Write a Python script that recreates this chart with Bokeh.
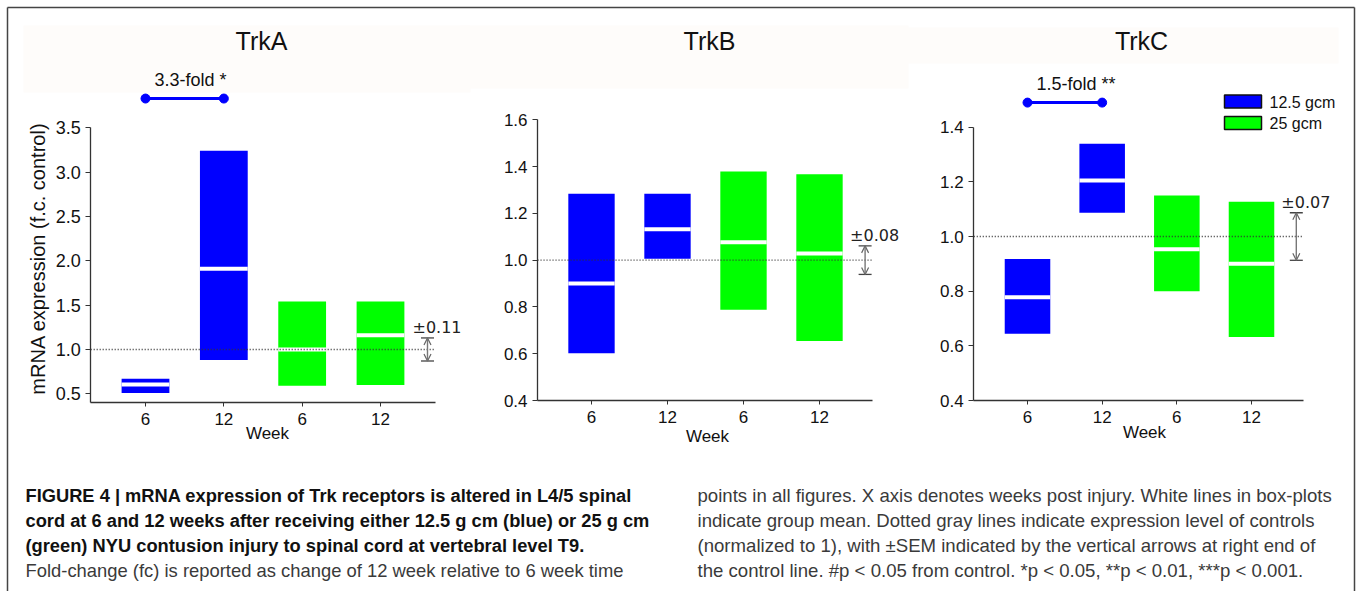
import math
from bokeh.plotting import figure
from bokeh.models import (Range1d, LinearAxis, FixedTicker, PrintfTickFormatter,
                          Arrow, OpenHead)
from bokeh.core.properties import value
from bokeh.embed import file_html
from bokeh.resources import INLINE

W, H = 1359, 591

# ---------------- data ----------------
categories = ["6", "12", "6", "12"]
groups = ["12.5 gcm", "12.5 gcm", "25 gcm", "25 gcm"]
series = ["12.5 gcm", "25 gcm"]
series_colors = ["#0000ff", "#00ff00"]

panel_names = ["TrkA", "TrkB", "TrkC"]

trka_top = [0.67, 3.24, 1.54, 1.54]
trka_bottom = [0.51, 0.88, 0.59, 0.60]
trka_mean = [0.605, 1.91, 1.00, 1.16]

trkb_top = [1.284, 1.284, 1.379, 1.367]
trkb_bottom = [0.602, 1.006, 0.788, 0.654]
trkb_mean = [0.90, 1.132, 1.077, 1.028]

trkc_top = [0.918, 1.339, 1.150, 1.127]
trkc_bottom = [0.644, 1.087, 0.800, 0.632]
trkc_mean = [0.778, 1.205, 0.953, 0.90]

control_level = 1.0
sem_labels = ["±0.11", "±0.08", "±0.07"]
sem_arrow_half = [0.13, 0.061, 0.087]

fold_labels = ["3.3-fold *", "", "1.5-fold **"]
fold_level = [3.83, None, 1.49]

yticks_a = [0.5, 1.0, 1.5, 2.0, 2.5, 3.0, 3.5]
yticks_b = [0.4, 0.6, 0.8, 1.0, 1.2, 1.4, 1.6]
yticks_c = [0.4, 0.6, 0.8, 1.0, 1.2, 1.4]

y_label = "mRNA expression (f.c. control)"
x_label = "Week"

caption_left_bold = [
    "FIGURE 4 | mRNA expression of Trk receptors is altered in L4/5 spinal",
    "cord at 6 and 12 weeks after receiving either 12.5 g cm (blue) or 25 g cm",
    "(green) NYU contusion injury to spinal cord at vertebral level T9.",
]
caption_left_regular = [
    "Fold-change (fc) is reported as change of 12 week relative to 6 week time",
]
caption_right = [
    "points in all figures. X axis denotes weeks post injury. White lines in box-plots",
    "indicate group mean. Dotted gray lines indicate expression level of controls",
    "(normalized to 1), with ±SEM indicated by the vertical arrows at right end of",
    "the control line. #p < 0.05 from control. *p < 0.05, **p < 0.01, ***p < 0.001.",
]

tops = [trka_top, trkb_top, trkc_top]
bottoms = [trka_bottom, trkb_bottom, trkc_bottom]
means = [trka_mean, trkb_mean, trkc_mean]
yticks = [yticks_a, yticks_b, yticks_c]

# ---------------- layout (pixel calibration of each panel) ----------------
xcal = [((1, 145), (4, 380)), ((1, 591), (4, 819)), ((1, 1027), (4, 1251))]
ycal = [((3.5, 127.3), (0.5, 393.3)), ((1.6, 119.3), (0.4, 400.0)), ((1.4, 126.7), (0.4, 400.0))]
x_left = [0.30, 0.29, 0.28]
x_right = 4.7
y_floor = 0.4
tick_font = ["18px", "17px", "17px"]
title_pos = [(261, 40), (709, 40), (1141, 40)]
week_pos = [(267, 433), (707, 436), (1144, 432)]
half_w = 0.305
arrow_x = 4.6

FONT_NAME = "Liberation Sans"
FONT = value(FONT_NAME)


def make_range(c, total, vertical):
    (v1, p1), (v2, p2) = c
    k = (v2 - v1) / (p2 - p1)
    at0 = v1 - k * p1
    att = v1 + k * (total - p1)
    return Range1d(start=att, end=at0) if vertical else Range1d(start=at0, end=att)


p = figure(width=W, height=H, x_range=Range1d(0, W), y_range=Range1d(H, 0),
           x_axis_type=None, y_axis_type=None, toolbar_location=None,
           output_backend="svg", min_border=0, outline_line_color=None,
           background_fill_color="white", border_fill_color="white")

# very faint title bands
p.quad(left=[23, 460, 900], right=[470, 908, 1338], top=[25, 25, 27], bottom=[92, 88, 63],
       fill_color="#fefcfa", line_color=None)

# outer frame
p.segment(x0=[7, 7, 1354], y0=[7, 7, 7], x1=[1354, 7, 1354], y1=[7, H, H],
          line_color="#444444", line_width=1.5)

for i, name in enumerate(panel_names):
    xn, yn = f"x{i}", f"y{i}"
    p.extra_x_ranges[xn] = make_range(xcal[i], W, False)
    p.extra_y_ranges[yn] = make_range(ycal[i], H, True)
    xs = [k + 1 for k in range(len(categories))]
    colors = [series_colors[series.index(g)] for g in groups]

    p.quad(left=[x - half_w for x in xs], right=[x + half_w for x in xs],
           bottom=bottoms[i], top=tops[i], fill_color=colors, line_color=None,
           x_range_name=xn, y_range_name=yn)
    p.segment(x0=[x - half_w for x in xs], x1=[x + half_w for x in xs],
              y0=means[i], y1=means[i], line_color="white", line_width=4,
              x_range_name=xn, y_range_name=yn)
    p.segment(x0=[x_left[i]], x1=[x_right], y0=[control_level], y1=[control_level],
              line_color="#333333", line_width=1.4, line_dash="1 2",
              x_range_name=xn, y_range_name=yn)
    h = sem_arrow_half[i]
    p.add_layout(Arrow(x_start=arrow_x, y_start=control_level - h,
                       x_end=arrow_x, y_end=control_level + h,
                       start=OpenHead(size=7, line_color="#666666", line_width=1.2),
                       end=OpenHead(size=7, line_color="#666666", line_width=1.2),
                       line_color="#777777", line_width=1.4,
                       x_range_name=xn, y_range_name=yn))
    p.scatter(x=[arrow_x, arrow_x], y=[control_level - h, control_level + h],
              marker="dash", size=13, line_color="#444444", line_width=1.3,
              x_range_name=xn, y_range_name=yn)
    p.text(x=[arrow_x], y=[control_level + h], text=[sem_labels[i]],
           x_offset=-15, y_offset=-10, text_align="left", text_baseline="middle",
           text_font=value("DejaVu Sans"), text_font_size="16px", text_color="#222222",
           x_range_name=xn, y_range_name=yn)

    if fold_level[i] is not None:
        fy = fold_level[i]
        p.segment(x0=[1], x1=[2], y0=[fy], y1=[fy], line_color=series_colors[0],
                  line_width=3, x_range_name=xn, y_range_name=yn)
        p.scatter(x=[1, 2], y=[fy, fy], size=9, color=series_colors[0],
                  x_range_name=xn, y_range_name=yn)
        p.text(x=[1], y=[fy], text=[fold_labels[i]], x_offset=9, y_offset=-19,
               text_align="left", text_baseline="middle", text_font=FONT,
               text_font_size="18px", text_color="#111111",
               x_range_name=xn, y_range_name=yn)

    xa = LinearAxis(x_range_name=xn, y_range_name=yn, fixed_location=y_floor,
                    bounds=(x_left[i], x_right),
                    ticker=FixedTicker(ticks=xs),
                    major_label_overrides={x: c for x, c in zip(xs, categories)},
                    axis_line_color="#333333", axis_line_width=1.3,
                    major_tick_line_color="#333333", major_tick_out=4, major_tick_in=0,
                    minor_tick_line_color=None, major_label_standoff=6,
                    major_label_text_font=FONT_NAME, major_label_text_font_size="17px",
                    major_label_text_color="#111111")
    p.add_layout(xa, "below")
    ya = LinearAxis(x_range_name=xn, y_range_name=yn, fixed_location=x_left[i],
                    bounds=(y_floor, yticks[i][-1]),
                    ticker=FixedTicker(ticks=yticks[i]),
                    formatter=PrintfTickFormatter(format="%.1f"),
                    axis_line_color="#333333", axis_line_width=1.3,
                    major_tick_line_color="#333333", major_tick_out=5, major_tick_in=0,
                    minor_tick_line_color=None, major_label_standoff=5,
                    major_label_text_font=FONT_NAME, major_label_text_font_size=tick_font[i],
                    major_label_text_color="#111111")
    p.add_layout(ya, "left")

p.text(x=[t[0] for t in title_pos], y=[t[1] for t in title_pos], text=panel_names,
       text_align="center", text_baseline="middle", text_font=FONT,
       text_font_size="25px", text_color="#111111")
p.text(x=[w[0] for w in week_pos], y=[w[1] for w in week_pos], text=[x_label] * 3,
       text_align="center", text_baseline="middle", text_font=FONT,
       text_font_size="17px", text_color="#111111")
p.text(x=[37], y=[258], text=[y_label], angle=math.pi / 2, text_align="center",
       text_baseline="middle", text_font=FONT, text_font_size="20px",
       text_color="#111111")

p.quad(left=[1224, 1224], right=[1261, 1261], top=[94.5, 116], bottom=[107.5, 129],
       fill_color=series_colors, line_color="#111111", line_width=1.5)
p.text(x=[1269, 1269], y=[101.5, 122.5], text=series, text_align="left",
       text_baseline="middle", text_font=FONT, text_font_size="16px",
       text_color="#111111")

cap_y = [495, 520, 545, 570]
p.text(x=[25] * 3, y=cap_y[:3], text=caption_left_bold, text_align="left",
       text_baseline="middle",
       text_font=value("'Liberation Sans Narrow', 'Liberation Sans', sans-serif"),
       text_font_style="bold", text_font_size="18.3px", text_color="#111111")
p.text(x=[25], y=cap_y[3:], text=caption_left_regular, text_align="left",
       text_baseline="middle", text_font=FONT, text_font_size="18.4px",
       text_color="#3a3a3a")
p.text(x=[697] * 4, y=cap_y, text=caption_right, text_align="left",
       text_baseline="middle", text_font=FONT, text_font_size="18.6px",
       text_color="#3a3a3a")

open("out.html", "w").write(file_html(p, INLINE))
